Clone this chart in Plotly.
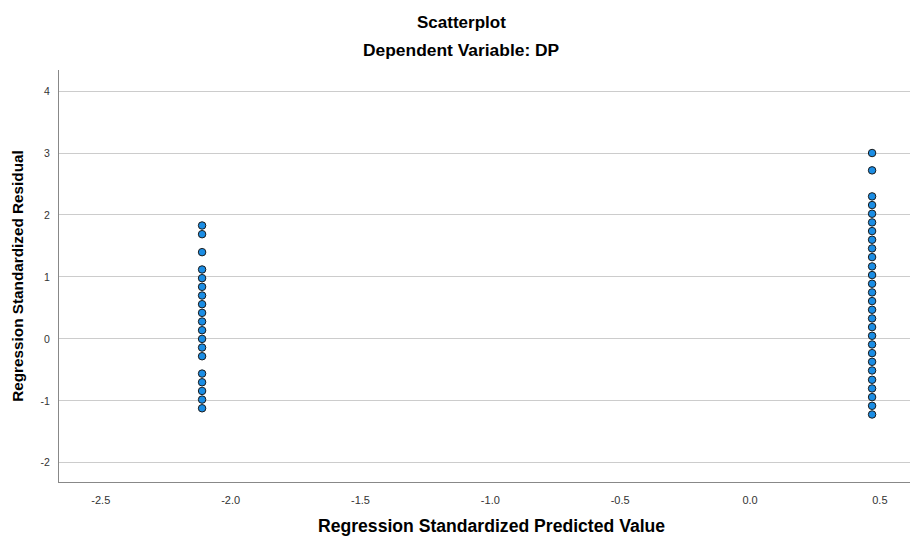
import plotly.graph_objects as go

# Standardized predicted values (two groups) and their standardized residuals
pred_low = -2.11
pred_high = 0.47

resid_low = [1.83, 1.69, 1.40, 1.12, 0.98, 0.84, 0.70, 0.56, 0.42, 0.28, 0.14,
             0.00, -0.14, -0.28, -0.56, -0.70, -0.84, -0.98, -1.12]
resid_high = [3.00, 2.72, 2.30, 2.16, 2.02, 1.88, 1.74, 1.60, 1.46, 1.32, 1.17,
              1.03, 0.89, 0.75, 0.61, 0.47, 0.33, 0.19, 0.05, -0.09, -0.23,
              -0.37, -0.51, -0.66, -0.80, -0.94, -1.08, -1.22]

x_ticks = [-2.5, -2.0, -1.5, -1.0, -0.5, 0.0, 0.5]
x_tick_text = ["-2.5", "-2.0", "-1.5", "-1.0", "-0.5", "0.0", "0.5"]
y_ticks = [-2, -1, 0, 1, 2, 3, 4]
y_tick_text = ["-2", "-1", "0", "1", "2", "3", "4"]

xs = [pred_low] * len(resid_low) + [pred_high] * len(resid_high)
ys = resid_low + resid_high

FONT = "Liberation Sans, Arial, sans-serif"
W, H = 911, 539
ML, MR, MT, MB = 59, 1, 70, 57
PW, PH = W - ML - MR, H - MT - MB


def px_x(px):
    """Horizontal pixel -> paper fraction of the plotting area."""
    return (px - ML) / PW


def px_y(py):
    """Vertical pixel -> paper fraction of the plotting area."""
    return (H - MB - py) / PH


fig = go.Figure(
    go.Scatter(
        x=xs, y=ys, mode="markers",
        marker=dict(size=7.5, color="#1b8de4",
                    line=dict(color="#1a1a1a", width=1)),
        hoverinfo="x+y",
    )
)

fig.update_layout(
    width=W, height=H,
    margin=dict(l=ML, r=MR, t=MT, b=MB),
    paper_bgcolor="white", plot_bgcolor="white",
    showlegend=False,
    font=dict(family=FONT, color="#222222"),
    annotations=[
        dict(text="<b>Scatterplot</b>", xref="paper", yref="paper",
             x=px_x(461), y=px_y(22), xanchor="center", yanchor="middle",
             showarrow=False,
             font=dict(size=17, color="#000000", family=FONT)),
        dict(text="<b>Dependent Variable: DP</b>", xref="paper", yref="paper",
             x=px_x(461), y=px_y(50), xanchor="center", yanchor="middle",
             showarrow=False,
             font=dict(size=17.4, color="#000000", family=FONT)),
        dict(text="<b>Regression Standardized Predicted Value</b>",
             xref="paper", yref="paper",
             x=px_x(491), y=px_y(526), xanchor="center", yanchor="middle",
             showarrow=False,
             font=dict(size=17.6, color="#000000", family=FONT)),
    ],
)

fig.update_xaxes(
    range=[-2.661, 0.616],
    tickvals=x_ticks, ticktext=x_tick_text,
    tickfont=dict(size=11, color="#333333"),
    showgrid=False, zeroline=False,
    showline=True, linecolor="#888888", linewidth=1,
    ticks="", ticklabelstandoff=8,
)

fig.update_yaxes(
    range=[-2.31, 4.34],
    tickvals=y_ticks, ticktext=y_tick_text,
    tickfont=dict(size=10.5, color="#333333"),
    showgrid=True, gridcolor="#cccccc", gridwidth=1,
    zeroline=False,
    showline=True, linecolor="#888888", linewidth=1,
    ticks="", ticklabelstandoff=6,
    title=dict(text="<b>Regression Standardized Residual</b>",
               font=dict(size=15.3, color="#000000"), standoff=13),
)

fig.write_html("out.html")
